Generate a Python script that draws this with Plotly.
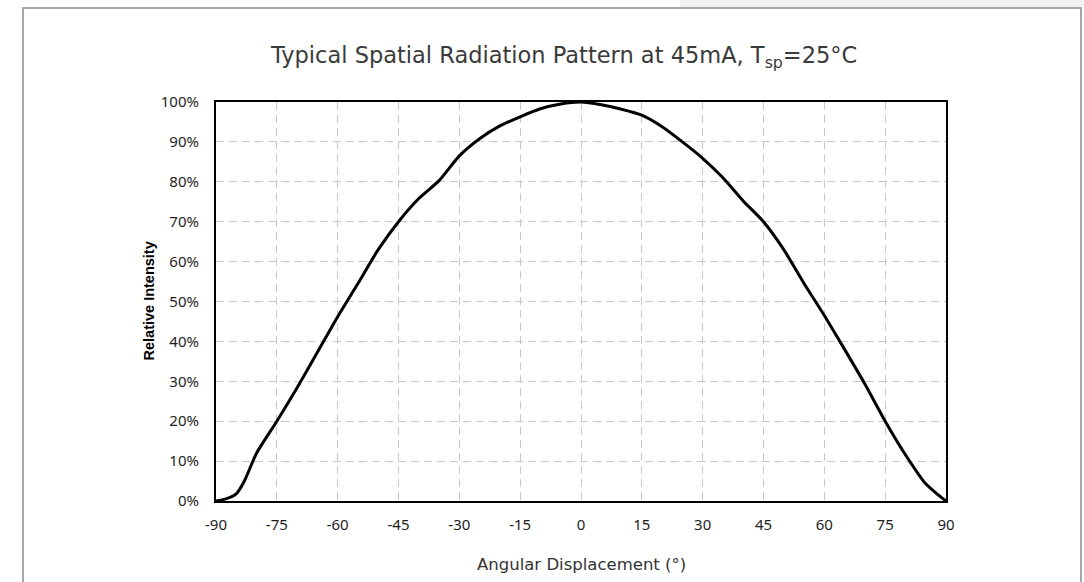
import plotly.graph_objects as go

angles = [-90, -88, -85, -83, -80, -75, -70, -65, -60, -55, -50, -45, -40, -35, -30,
          -25, -20, -15, -10, -5, 0, 5, 10, 15, 20, 25, 30, 35, 40, 45, 50, 55, 60,
          65, 70, 75, 80, 85, 88, 90]
intensity = [0.0, 0.4, 1.8, 5.0, 12.0, 20.0, 28.4, 37.3, 46.2, 54.5, 63.0, 70.0, 75.8,
             80.3, 86.5, 90.8, 94.0, 96.3, 98.3, 99.5, 100.0, 99.3, 98.2, 96.7, 93.8,
             90.0, 85.9, 81.0, 75.2, 70.0, 63.0, 54.5, 46.5, 38.0, 29.3, 20.0, 11.6,
             4.3, 1.6, 0.0]
x_ticks = list(range(-90, 91, 15))
y_ticks = list(range(0, 101, 10))
y_tick_labels = [f"{v}%" for v in y_ticks]

chart_title = ("Typical Spatial Radiation Pattern at 45mA, T"
               "<sub><span style='color:#3a3a3a'>sp</span></sub>=25°C")
x_title = "Angular Displacement (°)"
y_title = "<b>Relative Intensity</b>"

W, H = 1084, 582
L, R, T, B = 216, 946, 102, 501

def px(xp):
    return (xp - L) / (R - L)

def py(yp):
    return (B - yp) / (B - T)

fig = go.Figure()
fig.add_trace(go.Scatter(
    x=angles, y=intensity, mode="lines",
    line=dict(color="black", width=3, shape="spline", smoothing=0.6),
    showlegend=False, hoverinfo="skip",
))

axis_common = dict(
    showgrid=True, gridcolor="#c8c8c8", gridwidth=1, griddash="8px,5px",
    showline=True, linecolor="black", linewidth=2, mirror=True,
    ticks="", zeroline=False,
    tickfont=dict(family="Noto Sans", size=15, color="#1e1e1e"),
)

fig.update_layout(
    width=W, height=H,
    margin=dict(l=L, r=W - R, t=T, b=H - B),
    paper_bgcolor="white", plot_bgcolor="white",
    xaxis=dict(range=[-90, 90], tickmode="array", tickvals=x_ticks,
               ticktext=[str(v) for v in x_ticks], ticklabelstandoff=9,
               **axis_common),
    yaxis=dict(range=[0, 100], tickmode="array", tickvals=y_ticks,
               ticktext=y_tick_labels, ticklabelstandoff=12, **axis_common),
    annotations=[
        dict(text=chart_title, xref="paper", yref="paper",
             x=px(563), y=py(57), xanchor="center", yanchor="middle",
             showarrow=False,
             font=dict(family="DejaVu Sans", size=22.5, color="#3a3a3a")),
        dict(text=x_title, xref="paper", yref="paper",
             x=px(581), y=py(564), xanchor="center", yanchor="middle",
             showarrow=False,
             font=dict(family="DejaVu Sans", size=16.5, color="#333333")),
        dict(text=y_title, xref="paper", yref="paper",
             x=px(148), y=0.5, xanchor="center", yanchor="middle",
             textangle=-90, showarrow=False,
             font=dict(family="Liberation Sans", size=14.5, color="black")),
    ],
    shapes=[
        dict(type="rect", xref="paper", yref="paper",
             x0=px(680), x1=px(1084), y0=py(0), y1=py(7),
             fillcolor="#f2f2f2", line=dict(width=0), layer="below"),
        dict(type="rect", xref="paper", yref="paper",
             x0=px(23), x1=px(1081), y0=py(8), y1=py(600),
             line=dict(color="#8a8a8a", width=1.5), fillcolor="rgba(0,0,0,0)"),
    ],
)

fig.write_html("out.html", config={"displayModeBar": False},
               post_script="document.body.style.margin='0px';")
